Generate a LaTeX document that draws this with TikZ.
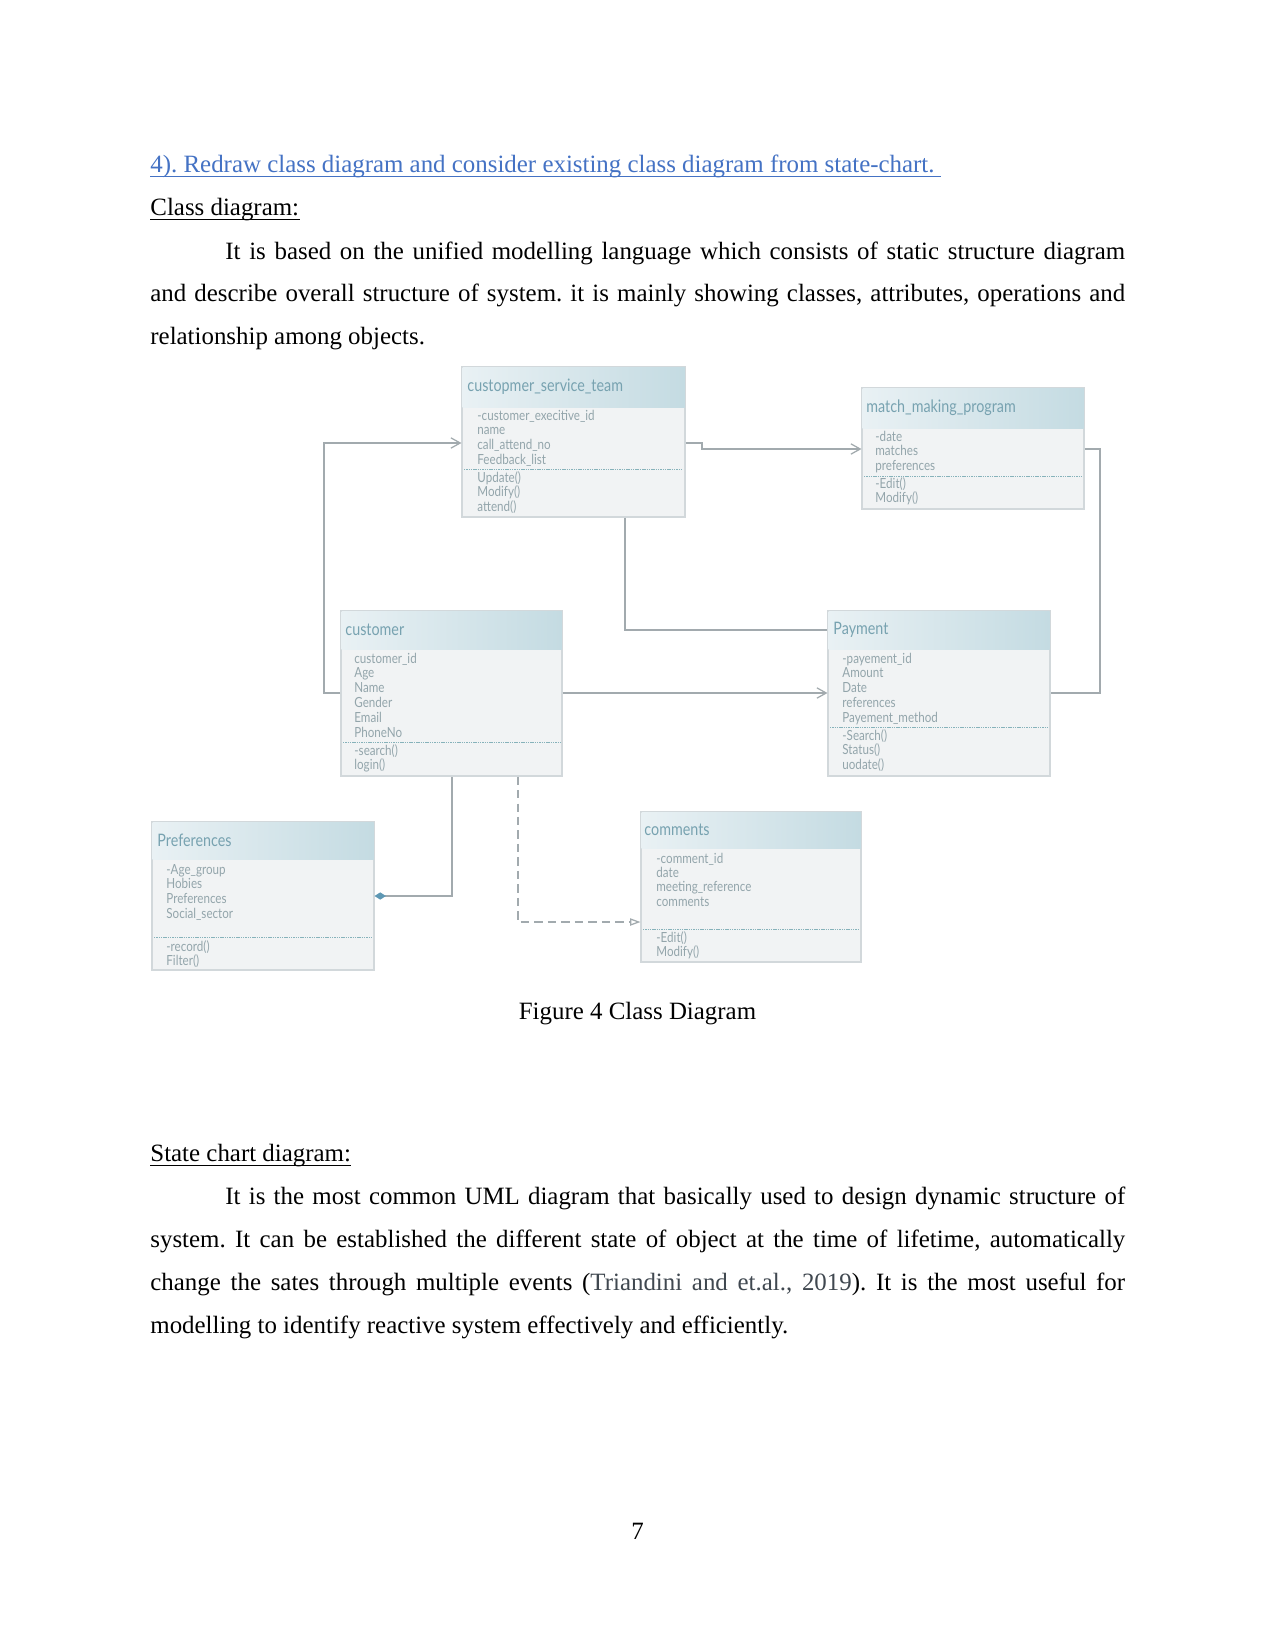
\documentclass[tikz,border=0pt]{standalone}
\usepackage{fontspec}
\setmainfont{Liberation Serif}
\newfontfamily\umlfont{Lato}
\usetikzlibrary{arrows.meta, fit}

\definecolor{headblue}{HTML}{4472C4}
\definecolor{citegray}{HTML}{404850}
\definecolor{boxline}{HTML}{D2D8DB}
\definecolor{boxbody}{HTML}{F1F3F4}
\definecolor{headlight}{HTML}{E9F1F4}
\definecolor{headdark}{HTML}{C4DBE2}
\definecolor{titlecol}{HTML}{77A2B0}
\definecolor{attrcol}{HTML}{93A5AB}
\definecolor{sepcol}{HTML}{86B2BA}
\definecolor{conncol}{HTML}{A2AAAE}
\definecolor{diacol}{HTML}{5E98B4}

% class diagram letters are drawn narrow and tall
\newcommand\umltall[1]{\scalebox{1}[1.2]{#1}}

\begin{document}
\frenchspacing
\begin{tikzpicture}[x=0.0169333cm, y=-0.0169333cm,
    para/.style={anchor=base west, inner sep=0, text width=6.5in, align=justify,
      font=\fontsize{12}{20.72}\selectfont},
    plain/.style={anchor=base west, inner sep=0, font=\fontsize{12}{14}\selectfont},
    uline/.style={line width=0.6pt},
    umlbox/.style={draw=boxline, fill=boxbody, inner sep=0, line width=0.5pt},
    umlhead/.style={left color=headlight, right color=headdark},
    umltitle/.style={anchor=west, inner sep=0, text=titlecol,
      font=\umlfont\fontsize{6.9}{8}\selectfont},
    umltext/.style={anchor=base west, inner sep=0, text=attrcol,
      font=\umlfont\fontsize{5.6}{7}\selectfont},
    umlsep/.style={draw=sepcol, dash pattern=on 0.7pt off 0.4pt, line width=0.4pt},
    conn/.style={draw=conncol, line width=0.6pt},
    opena/.style={-{Straight Barb[length=4.5pt,width=5pt]}},
    realize/.style={dash pattern=on 4pt off 2.5pt, -{Triangle[open,length=5pt,width=3.5pt,fill=white]}},
    compose/.style={{Diamond[length=5.5pt,width=3.5pt,fill=diacol,color=diacol]}-}
  ]
  \useasboundingbox[fill=white] (0,0) rectangle (1275,1651);

  % Page text above the figure
  \node[plain, text=headblue] (head) at (150,172)
    {4). Redraw class diagram and consider existing class diagram from state-chart.};
  \draw[uline, headblue] ([yshift=-2pt]head.base west) -- ([xshift=3pt,yshift=-2pt]head.base east);
  \node[plain] (sub1) at (150,215) {Class diagram:};
  \draw[uline] ([yshift=-2pt]sub1.base west) -- ([yshift=-2pt]sub1.base east);
  \node[para] (par1) at (150,259) {\hspace*{0.5in}It is based on the unified modelling language which consists of static structure diagram\linebreak
    and describe overall structure of system. it is mainly showing classes, attributes, operations and\linebreak
    relationship among objects.};

  % custopmer_service_team
  \node[umlbox, fit={(462,367) (685,517)}] (cst) {};
  \shade[umlhead] (462.5,367.5) rectangle (684.5,407);
  \node[umltitle] (cst-t) at (467,387) {\umltall{custopmer\_service\_team}};
  \foreach \txt [count=\i from 0] in {-customer\_execitive\_id, name, call\_attend\_no, Feedback\_list}
    \node[umltext] (cst-a\i) at (477,420+14.7*\i) {\umltall{\txt}};
  \draw[umlsep] (464,469) -- (683,469);
  \foreach \txt [count=\i from 0] in {Update(), Modify(), attend()}
    \node[umltext] (cst-m\i) at (477,482+14.5*\i) {\umltall{\txt}};

  % match_making_program
  \node[umlbox, fit={(862,388) (1084,509)}] (mmp) {};
  \shade[umlhead] (862.5,388.5) rectangle (1083.5,428);
  \node[umltitle] (mmp-t) at (866,408) {\umltall{match\_making\_program}};
  \foreach \txt [count=\i from 0] in {-date, matches, preferences}
    \node[umltext] (mmp-a\i) at (875,441+14.8*\i) {\umltall{\txt}};
  \draw[umlsep] (864,476) -- (1082,476);
  \foreach \txt [count=\i from 0] in {-Edit(), Modify()}
    \node[umltext] (mmp-m\i) at (875,488+14.3*\i) {\umltall{\txt}};

  % customer
  \node[umlbox, fit={(341,611) (562,776)}] (cust) {};
  \shade[umlhead] (341.5,611.5) rectangle (561.5,649);
  \node[umltitle] (cust-t) at (345,630) {\umltall{customer}};
  \foreach \txt [count=\i from 0] in {customer\_id, Age, Name, Gender, Email, PhoneNo}
    \node[umltext] (cust-a\i) at (354,663+14.8*\i) {\umltall{\txt}};
  \draw[umlsep] (343,742) -- (560,742);
  \foreach \txt [count=\i from 0] in {-search(), login()}
    \node[umltext] (cust-m\i) at (354,755+14.3*\i) {\umltall{\txt}};

  % Payment
  \node[umlbox, fit={(828,611) (1050,776)}] (pay) {};
  \shade[umlhead] (828.5,611.5) rectangle (1049.5,649);
  \node[umltitle] (pay-t) at (833,630) {\umltall{Payment}};
  \foreach \txt [count=\i from 0] in {-payement\_id, Amount, Date, references, Payement\_method}
    \node[umltext] (pay-a\i) at (842,663+14.8*\i) {\umltall{\txt}};
  \draw[umlsep] (830,727) -- (1048,727);
  \foreach \txt [count=\i from 0] in {-Search(), Status(), uodate()}
    \node[umltext] (pay-m\i) at (842,740+14.5*\i) {\umltall{\txt}};

  % Preferences
  \node[umlbox, fit={(152,822) (374,970)}] (pref) {};
  \shade[umlhead] (152.5,822.5) rectangle (373.5,859);
  \node[umltitle] (pref-t) at (157,840) {\umltall{Preferences}};
  \foreach \txt [count=\i from 0] in {-Age\_group, Hobies, Preferences, Social\_sector}
    \node[umltext] (pref-a\i) at (166,874+14.7*\i) {\umltall{\txt}};
  \draw[umlsep] (154,937) -- (372,937);
  \foreach \txt [count=\i from 0] in {-record(), Filter()}
    \node[umltext] (pref-m\i) at (166,951+14.3*\i) {\umltall{\txt}};

  % comments
  \node[umlbox, fit={(641,812) (861,962)}] (comm) {};
  \shade[umlhead] (641.5,812.5) rectangle (860.5,848);
  \node[umltitle] (comm-t) at (644,830) {\umltall{comments}};
  \foreach \txt [count=\i from 0] in {-comment\_id, date, meeting\_reference, comments}
    \node[umltext] (comm-a\i) at (656,863+14.4*\i) {\umltall{\txt}};
  \draw[umlsep] (643,929) -- (859,929);
  \foreach \txt [count=\i from 0] in {-Edit(), Modify()}
    \node[umltext] (comm-m\i) at (656,942+14.3*\i) {\umltall{\txt}};

  % Connectors
  \draw[conn, opena] (cust.west |- 0,693) -| (324,443) -- (cst.west |- 0,443);
  \draw[conn, opena] (cst.east |- 0,443) -| (702,449) -- (mmp.west |- 0,449);
  \draw[conn] (cst.south -| 625,0) |- (pay.west |- 0,630);
  \draw[conn, opena] (cust.east |- 0,693) -- (pay.west |- 0,693);
  \draw[conn] (mmp.east |- 0,449) -| (1100,693) -- (pay.east |- 0,693);
  \draw[conn, compose] (pref.east |- 0,896) -| (cust.south -| 452,0);
  \draw[conn, realize] (cust.south -| 518,0) |- (comm.west |- 0,922);

  % Caption and text below the figure
  \node[plain, anchor=base] (cap) at (637.5,1019) {Figure 4 Class Diagram};
  \node[plain] (sub2) at (150,1161) {State chart diagram:};
  \draw[uline] ([yshift=-2pt]sub2.base west) -- ([yshift=-2pt]sub2.base east);
  \node[para] (par2) at (150,1204) {\hspace*{0.5in}It is the most common UML diagram that basically used to design dynamic structure of\linebreak
    system. It can be established the different state of object at the time of lifetime, automatically\linebreak
    change the sates through multiple events ({\color{citegray}Triandini and et.al., 2019}). It is the most useful for\linebreak
    modelling to identify reactive system effectively and efficiently.};
  \node[plain, anchor=base] (pnum) at (637.5,1539) {7};
\end{tikzpicture}
\end{document}
